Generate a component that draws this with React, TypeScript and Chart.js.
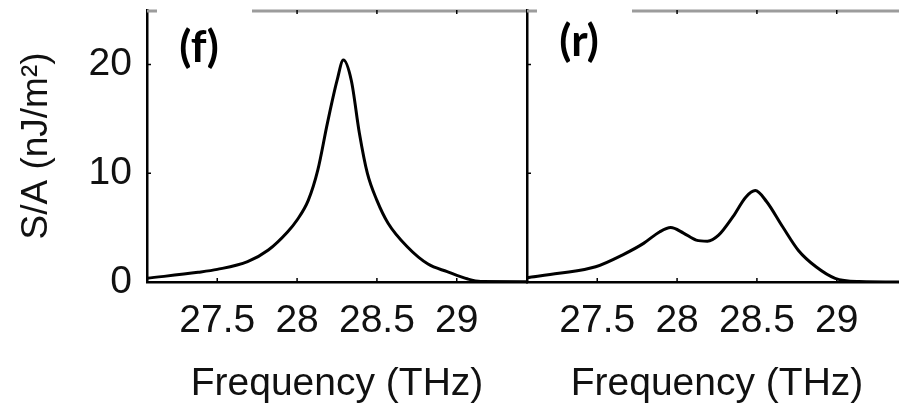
import React, { useEffect, useRef } from "react";
import { Chart, registerables } from "chart.js";

Chart.register(...registerables);

// ---- data ----
const freqF = [27.06, 27.38, 27.5, 27.69, 27.82, 27.94, 28.0, 28.07, 28.13, 28.19, 28.25, 28.29, 28.34, 28.39, 28.44, 28.5, 28.57, 28.69, 28.82, 28.94, 29.07, 29.15, 29.44];
const saF = [0.34, 0.89, 1.16, 1.87, 2.94, 4.6, 5.7, 7.5, 10.3, 14.6, 18.5, 20.4, 18.5, 13.7, 10.0, 7.5, 5.4, 3.24, 1.65, 0.95, 0.27, 0.05, 0.03];

const freqR = [27.06, 27.26, 27.49, 27.66, 27.79, 27.89, 27.96, 28.04, 28.12, 28.19, 28.26, 28.35, 28.43, 28.49, 28.56, 28.66, 28.76, 28.87, 28.99, 29.14, 29.44];
const saR = [0.4, 0.8, 1.4, 2.5, 3.55, 4.6, 5.0, 4.5, 3.85, 3.75, 4.3, 6.0, 7.8, 8.4, 7.4, 5.1, 2.9, 1.4, 0.34, 0.05, 0.0];

const xTicks = [27.5, 28, 28.5, 29];
const yTicks = [0, 10, 20];
const xMin = 27.06;
const xMax = 29.44;
const yMin = 0;
const yMax = 25;

const panelLabels = ["(f)", "(r)"];
const xTitle = "Frequency (THz)";
const yTitle = "S/A (nJ/m²)";

const FONT = "'Liberation Sans', Arial, Helvetica, sans-serif";

function makeDecor(label: string, labelY: number) {
  return {
    id: "decor",
    afterDraw(chart: any) {
      const { ctx, chartArea: a, scales } = chart;
      const xs = scales.x;
      const ys = scales.y;
      ctx.save();
      // grey top frame line
      ctx.strokeStyle = "#9c9c9c";
      ctx.lineWidth = 3;
      ctx.beginPath();
      ctx.moveTo(a.left, a.top + 1);
      ctx.lineTo(a.right, a.top + 1);
      ctx.stroke();
      // inward tick marks
      ctx.strokeStyle = "#000";
      ctx.lineWidth = 1.5;
      ctx.beginPath();
      for (const v of xTicks) {
        const px = xs.getPixelForValue(v);
        ctx.moveTo(px, a.bottom);
        ctx.lineTo(px, a.bottom - 4);
        ctx.moveTo(px, a.top);
        ctx.lineTo(px, a.top + 4);
      }
      for (const v of yTicks) {
        if (v === yMin) continue;
        const py = ys.getPixelForValue(v);
        ctx.moveTo(a.left - 1, py);
        ctx.lineTo(a.left + 4, py);
      }
      ctx.stroke();
      // white gap behind the panel label
      ctx.fillStyle = "#fff";
      ctx.fillRect(a.left + 10, 0, 95, a.top + 6);
      // panel label
      ctx.fillStyle = "#000";
      ctx.font = "bold 44px Lato, 'Open Sans', sans-serif";
      ctx.textAlign = "center";
      ctx.textBaseline = "middle";
      ctx.fillText(label, a.left + 52, labelY);
      ctx.restore();
    },
  };
}

function makeConfig(xs: number[], ys: number[], showYLabels: boolean, yAxisWidth: number, label: string, labelY: number): any {
  return {
    type: "line",
    data: {
      datasets: [
        {
          data: xs.map((x, i) => ({ x, y: ys[i] })),
          borderColor: "#000",
          borderWidth: 3,
          pointRadius: 0,
          cubicInterpolationMode: "monotone",
          fill: false,
        },
      ],
    },
    options: {
      animation: false,
      responsive: false,
      devicePixelRatio: 1,
      layout: { padding: { top: 10, left: 0, right: 13, bottom: 0 } },
      plugins: { legend: { display: false }, tooltip: { enabled: false } },
      scales: {
        x: {
          type: "linear",
          min: xMin,
          max: xMax,
          grid: { display: false, drawTicks: false },
          border: { display: true, color: "#000", width: 2.5 },
          afterBuildTicks: (s: any) => {
            s.ticks = xTicks.map((v) => ({ value: v }));
          },
          afterFit: (s: any) => {
            s.height = 123;
            s.paddingLeft = 0;
            s.paddingRight = 0;
          },
          ticks: {
            autoSkip: false,
            maxRotation: 0,
            padding: 20,
            color: "#111",
            font: { family: FONT, size: 39, lineHeight: 1 },
            callback: (v: any) => String(v),
          },
          title: {
            display: true,
            text: xTitle,
            color: "#111",
            font: { family: FONT, size: 39, lineHeight: 1 },
            padding: { top: 0, bottom: 1 },
          },
        },
        y: {
          type: "linear",
          min: yMin,
          max: yMax,
          grid: { display: false, drawTicks: false },
          border: { display: true, color: "#000", width: 2.5 },
          afterBuildTicks: (s: any) => {
            s.ticks = yTicks.map((v) => ({ value: v }));
          },
          afterFit: (s: any) => {
            s.width = yAxisWidth;
            s.paddingTop = 0;
            s.paddingBottom = 0;
          },
          ticks: {
            display: showYLabels,
            padding: 15,
            color: "#111",
            font: { family: FONT, size: 39, lineHeight: 1 },
          },
          title: {
            display: showYLabels,
            text: yTitle,
            color: "#111",
            font: { family: FONT, size: 37, lineHeight: 1 },
            padding: { top: 18, bottom: 0 },
          },
        },
      },
    },
    plugins: [makeDecor(label, labelY)],
  };
}

export default function App() {
  const leftRef = useRef<HTMLCanvasElement>(null);
  const rightRef = useRef<HTMLCanvasElement>(null);

  useEffect(() => {
    const c1 = new Chart(leftRef.current as HTMLCanvasElement, makeConfig(freqF, saF, true, 147, panelLabels[0], 48));
    const c2 = new Chart(rightRef.current as HTMLCanvasElement, makeConfig(freqR, saR, false, 47, panelLabels[1], 42));
    return () => {
      c1.destroy();
      c2.destroy();
    };
  }, []);

  return (
    <div
      style={{
        position: "fixed",
        left: 0,
        top: 0,
        width: 899,
        height: 405,
        overflow: "hidden",
        background: "#fff",
      }}
    >
      <canvas ref={leftRef} width={540} height={405} style={{ position: "absolute", left: 0, top: 0 }} />
      <canvas ref={rightRef} width={440} height={405} style={{ position: "absolute", left: 480, top: 0 }} />
    </div>
  );
}
